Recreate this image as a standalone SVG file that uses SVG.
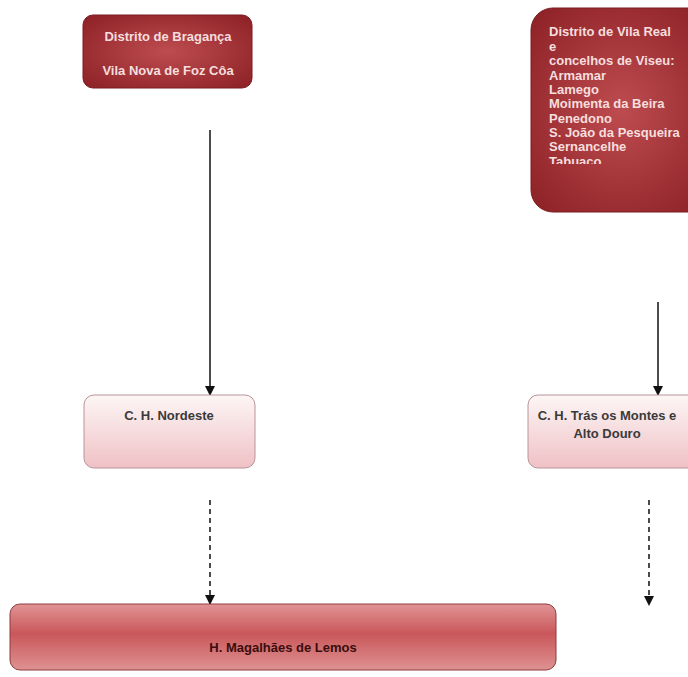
<svg xmlns="http://www.w3.org/2000/svg" width="688" height="677" viewBox="0 0 688 677">
<style>
.wt{font-family:"Liberation Sans",Arial,sans-serif;font-weight:bold;font-size:13px;fill:#f6dede}
.dt{font-family:"Liberation Sans",Arial,sans-serif;font-weight:bold;font-size:13px;fill:#3a3a3a}
.bt{font-family:"Liberation Sans",Arial,sans-serif;font-weight:bold;font-size:13px;fill:#3b0d0d}
.solid{stroke:#111;stroke-width:1.5;fill:none}
.dash{stroke:#111;stroke-width:1.5;fill:none;stroke-dasharray:5,4}
</style>
<defs>
<radialGradient id="red" cx="0.5" cy="0.5" r="0.7">
<stop offset="0" stop-color="#bd4c50"/>
<stop offset="1" stop-color="#8c2025"/>
</radialGradient>
<linearGradient id="pink" x1="0" y1="0" x2="0" y2="1">
<stop offset="0" stop-color="#fdf6f6"/>
<stop offset="1" stop-color="#efc1c5"/>
</linearGradient>
<linearGradient id="band" x1="0" y1="0" x2="0" y2="1">
<stop offset="0" stop-color="#e19495"/>
<stop offset="0.45" stop-color="#c9575a"/>
<stop offset="1" stop-color="#df9293"/>
</linearGradient>
<marker id="ah" viewBox="0 0 10 10" refX="10" refY="5" markerWidth="10" markerHeight="10" markerUnits="userSpaceOnUse" orient="auto">
<path d="M0,0 L10,5 L0,10 z" fill="#111"/>
</marker>
<clipPath id="clipVR"><rect x="531" y="8" width="157" height="156"/></clipPath>
</defs>
<rect width="688" height="677" fill="#ffffff"/>
<g id="connectors">
<line class="solid" x1="210" y1="130" x2="210" y2="396" marker-end="url(#ah)"/>
<line class="solid" x1="658" y1="302" x2="658" y2="396" marker-end="url(#ah)"/>
<line class="dash" x1="210" y1="500" x2="210" y2="605" marker-end="url(#ah)"/>
<line class="dash" x1="649" y1="500" x2="649" y2="606" marker-end="url(#ah)"/>
</g>
<g id="braganca">
<rect x="83" y="15" width="169" height="73" rx="10" fill="url(#red)" stroke="#7a1c20" stroke-width="1"/>
<text class="wt" x="168" y="41" text-anchor="middle">Distrito  de Bragança</text>
<text class="wt" x="168" y="75" text-anchor="middle">Vila Nova de Foz Côa</text>
</g>
<g id="vilareal">
<rect x="531" y="8" width="180" height="204" rx="22" fill="url(#red)" stroke="#7a1c20" stroke-width="1"/>
<g clip-path="url(#clipVR)">
<text class="wt" x="549" y="36">Distrito de Vila Real</text>
<text class="wt" x="549" y="51">e</text>
<text class="wt" x="549" y="65">concelhos de Viseu:</text>
<text class="wt" x="549" y="80">Armamar</text>
<text class="wt" x="549" y="94">Lamego</text>
<text class="wt" x="549" y="108">Moimenta da Beira</text>
<text class="wt" x="549" y="123">Penedono</text>
<text class="wt" x="549" y="137">S. João da Pesqueira</text>
<text class="wt" x="549" y="151">Sernancelhe</text>
<text class="wt" x="549" y="166">Tabuaco</text>
</g>
</g>
<g id="nordeste">
<rect x="84" y="395" width="171" height="73" rx="10" fill="url(#pink)" stroke="#b9949a" stroke-width="1"/>
<text class="dt" x="169" y="420" text-anchor="middle">C. H. Nordeste</text>
</g>
<g id="tras">
<rect x="528" y="395" width="180" height="73" rx="10" fill="url(#pink)" stroke="#b9949a" stroke-width="1"/>
<text class="dt" x="607" y="420" text-anchor="middle">C. H. Trás os Montes e</text>
<text class="dt" x="607" y="438" text-anchor="middle">Alto Douro</text>
</g>
<g id="magalhaes">
<rect x="10" y="604" width="546" height="66" rx="10" fill="url(#band)" stroke="#8e3b3e" stroke-width="1"/>
<text class="bt" x="283" y="652" text-anchor="middle">H. Magalhães de Lemos</text>
</g>
</svg>
